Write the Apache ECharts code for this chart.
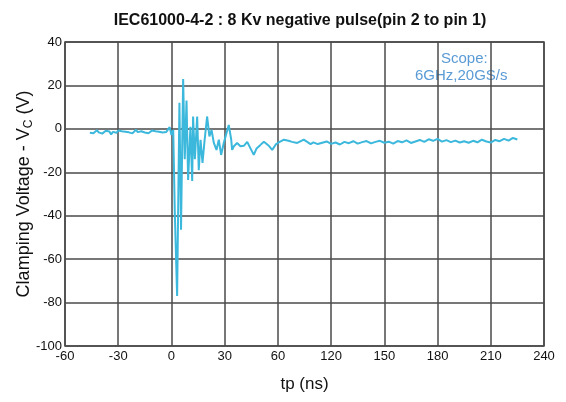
<!DOCTYPE html>
<html>
<head>
<meta charset="utf-8">
<script src="https://cdn.jsdelivr.net/npm/echarts@6/dist/echarts.min.js"></script>
<style>html,body{margin:0;padding:0;background:#fff}#c{width:566px;height:402px}</style>
</head>
<body>
<div id="c"></div>
<script>
var xTickLabels = ['-60','-30','0','30','60','120','150','180','210','240'];
var timeNs = [
-46,-45,-44,-43,-42,-41,-40,-39,-38,-37,-36,-35,-34,-33,-32,-31,-30,-29,-28,-27,-26,-25,-24,-23,-22,-21,-20,-19,-18,-17,-16,-15,-14,-13,-12,-11,-10,-9,-8,-7,-6,-5,-4,-3,-2,-1,0,1,
1.9,3.2,4.5,5.4,6.6,7.5,8.5,9.4,10.7,11.7,12.2,13.2,14.5,15.4,16.4,17.5,18.6,20.1,21.4,22.6,23.9,25.4,26.7,28,28.6,29.5,31,32.3,33.7,34.2,35.2,37,38.9,40.8,42.7,43.6,46.4,48,50,52.1,54.9,56.8,59,61,63.4,66,68,70.9,74.6,78.4,
80,82.5,85,87.5,90,92.5,95,97.5,100,102.5,105,107.5,110,112.5,115,117.5,120,122.5,125,127.5,130,132.5,135,137.5,140,142.5,145,147.5,150,152.5,155,157.5,160,162.5,165,167.5,170,172.5,175,177.5,180,182.5,185,187.5,190,192.5,195
];
var voltage = [
-1.8,-1.0,-2.0,-1.2,-0.6,-1.6,-1.1,-2.2,-1.3,-0.9,-1.7,-1.2,-2.6,-1.4,-1.0,-1.8,-0.8,-1.5,-1.1,-2.0,-1.3,-0.7,-1.6,-1.0,-2.1,-1.2,-0.4,-1.5,-1.9,-1.1,-0.6,-1.7,-1.2,-2.0,-1.4,-0.8,-1.6,-1.1,-1.9,-1.3,-0.9,-1.7,-1.2,-1.5,-1.0,0.8,-2.8,-0.5,
-38.7,-77,12,-46.5,23,-14,13,-23.5,1,-24,5.7,-14,5.7,-19,-5,-15.7,-6,5.7,-3.5,-0.5,-6.5,-9.7,-5,-12,-12.8,-6.5,-2,1.8,-5,-9.7,-8,-6.5,-8,-7.8,-6,-5.9,-12,-9,-7.5,-5.9,-7.8,-9.7,-7,-6,-5,-5.5,-6,-6.5,-5,-7,
-6.2,-7.0,-6.4,-5.8,-6.9,-6.3,-7.2,-6.0,-6.6,-5.7,-6.8,-6.1,-5.6,-6.7,-6.0,-5.5,-6.4,-5.9,-6.8,-5.6,-6.2,-5.3,-6.5,-5.8,-5.1,-6.0,-4.8,-5.5,-4.6,-5.9,-5.2,-6.1,-5.4,-6.3,-5.7,-6.4,-5.5,-6.2,-5.0,-5.8,-6.3,-5.1,-5.7,-4.6,-5.4,-4.2,-4.9
];
var seriesData = timeNs.map(function (t, i) { return [t, voltage[i]]; });

var FONT = 'Liberation Sans, Arial, sans-serif';
var chart = echarts.init(document.getElementById('c'), null, {renderer: 'canvas'});
var gridColor = '#4a4a4a';
chart.setOption({
  animation: false,
  backgroundColor: '#fff',
  title: {
    text: 'IEC61000-4-2 : 8 Kv negative pulse(pin 2 to pin 1)',
    left: 295, top: 8, textAlign: 'center',
    textStyle: {fontFamily: FONT, fontSize: 16, fontWeight: 'bold', color: '#111'}
  },
  grid: {left: 65, right: 22, top: 42, bottom: 56, show: true, borderColor: gridColor, borderWidth: 1.5, outerBoundsMode: 'none', containLabel: false},
  xAxis: {
    type: 'value', min: -60, max: 210, interval: 30,
    name: 'tp (ns)', nameLocation: 'middle', nameGap: 30, nameMoveOverlap: false,
    nameTextStyle: {fontFamily: FONT, fontSize: 17, color: '#111'},
    axisLine: {show: false}, axisTick: {show: false},
    axisLabel: {
      margin: 4, color: '#111', fontSize: 13, fontFamily: FONT,
      formatter: function (v) { return xTickLabels[Math.round((v + 60) / 30)]; }
    },
    splitLine: {show: true, lineStyle: {color: gridColor, width: 1.5}}
  },
  yAxis: {
    type: 'value', min: -100, max: 40, interval: 20,
    name: '{a|Clamping Voltage - V}{s|C}{a| (V)}', nameLocation: 'middle', nameGap: 30, nameMoveOverlap: false,
    nameTextStyle: {
      fontFamily: FONT, fontSize: 18, color: '#111',
      rich: {
        a: {fontFamily: FONT, fontSize: 18, color: '#111', lineHeight: 22},
        s: {fontFamily: FONT, fontSize: 12, color: '#111', lineHeight: 22, verticalAlign: 'bottom', padding: [6, 0, 0, 0]}
      }
    },
    axisLine: {show: false}, axisTick: {show: false},
    axisLabel: {margin: 3, color: '#111', fontSize: 13, fontFamily: FONT},
    splitLine: {show: true, lineStyle: {color: gridColor, width: 1.5}}
  },
  graphic: [
    {type: 'text', left: 441, top: 51, style: {text: 'Scope:', fill: '#5b9bd5', font: '15px "Liberation Sans", Arial, sans-serif'}},
    {type: 'text', left: 415, top: 68, style: {text: '6GHz,20GS/s', fill: '#5b9bd5', font: '15px "Liberation Sans", Arial, sans-serif'}}
  ],
  series: [{
    type: 'line', data: seriesData, showSymbol: false, symbol: 'none',
    lineStyle: {color: '#3cb8dc', width: 2}
  }]
});
</script>
</body>
</html>
